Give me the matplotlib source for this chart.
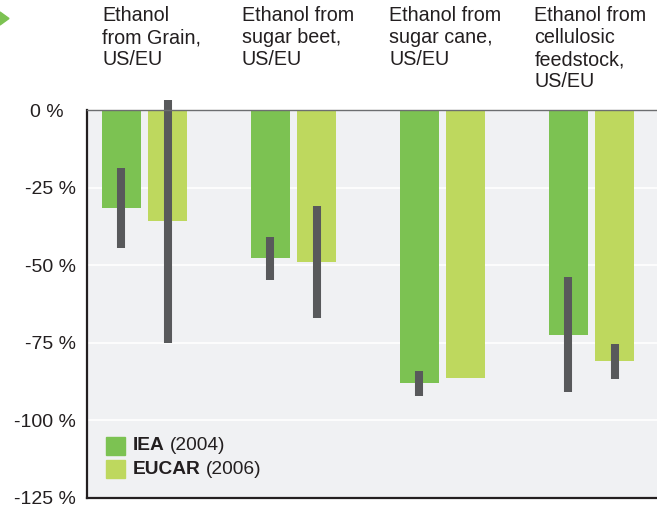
import matplotlib.pyplot as plt
import matplotlib.transforms as mtransforms
import numpy as np

plt.rcParams['font.family'] = ['Liberation Sans', 'DejaVu Sans']

# -- Ethanol GHG reduction vs gasoline --
categories = ['Ethanol\nfrom Grain,\nUS/EU',
              'Ethanol from\nsugar beet,\nUS/EU',
              'Ethanol from\nsugar cane,\nUS/EU',
              'Ethanol from\ncellulosic\nfeedstock,\nUS/EU']
iea = np.array([-31.5, -47.8, -88.1, -72.4])
eucar = np.array([-35.7, -48.9, -86.5, -80.9])
# ranges (top, bottom); nan = no range shown
iea_hi = np.array([-18.7, -40.9, -84.1, -53.8])
iea_lo = np.array([-44.4, -54.7, -92.0, -90.7])
eucar_hi = np.array([3.2, -30.9, np.nan, -75.4])
eucar_lo = np.array([-75.0, -66.9, np.nan, -86.6])
yticks = [0, -25, -50, -75, -100, -125]

c_iea = '#7cc252'
c_eucar = '#bed85e'
c_rng = '#58595b'
c_txt = '#231f20'

fig = plt.figure(figsize=(6.57, 5.08), dpi=100)
ax = fig.add_axes([87/657, 10/508, 1 - 87/657, 388/508])
ax.set_facecolor('#f0f1f3')

x = np.arange(len(categories))
w = 0.262
off = 0.155
ax.bar(x - off, iea, w, color=c_iea, zorder=2)
ax.bar(x + off, eucar, w, color=c_eucar, zorder=2)

ok = ~np.isnan(eucar_hi)
ax.vlines(x - off, iea_lo, iea_hi, color=c_rng, lw=5.8, zorder=3, clip_on=False)
ax.vlines((x + off)[ok], eucar_lo[ok], eucar_hi[ok], color=c_rng, lw=5.8, zorder=3, clip_on=False)

ax.set_ylim(-125, 0)
ax.set_xlim(-0.386, 3.44)
ax.set_yticks(yticks)
ax.set_yticklabels([f'{t} %' for t in yticks], fontsize=14, color=c_txt)
ax.tick_params(axis='y', length=0, pad=8)
ax.set_xticks([])
# the "0 %" label sits a bit further left in the original
lab0 = ax.get_yticklabels()[0]
lab0.set_transform(lab0.get_transform() + mtransforms.ScaledTranslation(-0.12, 0, fig.dpi_scale_trans))
for t in yticks[1:-1]:
    ax.axhline(t, color='white', lw=1.2, zorder=1)

for s in ['left', 'bottom']:
    ax.spines[s].set_color(c_txt)
    ax.spines[s].set_linewidth(1.6)
ax.spines['top'].set_color('#6d6e70')
ax.spines['top'].set_linewidth(1.0)
ax.spines['top'].set_zorder(4)
ax.spines['right'].set_visible(False)

# category labels above the plot
label_off = [-0.285, -0.346, -0.356, -0.383]
trans = mtransforms.blended_transform_factory(ax.transData, fig.transFigure)
for i, lab in enumerate(categories):
    ax.text(x[i] + label_off[i], 1 - 6/508, lab, transform=trans,
            ha='left', va='top', fontsize=14.2, linespacing=1.2, color=c_txt)

# legend
for j, (name, year, col) in enumerate([('IEA', '(2004)', c_iea), ('EUCAR', '(2006)', c_eucar)]):
    yy = 1 - (446 + j * 23) / 508
    fig.patches.append(plt.Rectangle((106/657, yy - 9/508), 19/657, 18/508,
                                     transform=fig.transFigure, color=col, figure=fig))
    t = fig.text(133/657, yy, name, fontsize=13.8, fontweight='bold', va='center', color=c_txt)
    fig.canvas.draw()
    bb = t.get_window_extent()
    fig.text((bb.x1 + 5) / 657, yy, year, fontsize=13.8, va='center', color=c_txt)

# green arrow marker top-left
fig.patches.append(plt.Polygon([[0, 1 - 12/508], [9/657, 1 - 18.5/508], [0, 1 - 25/508]],
                               closed=True, transform=fig.transFigure, color=c_iea, figure=fig))

fig.savefig('out.png', dpi=100)
